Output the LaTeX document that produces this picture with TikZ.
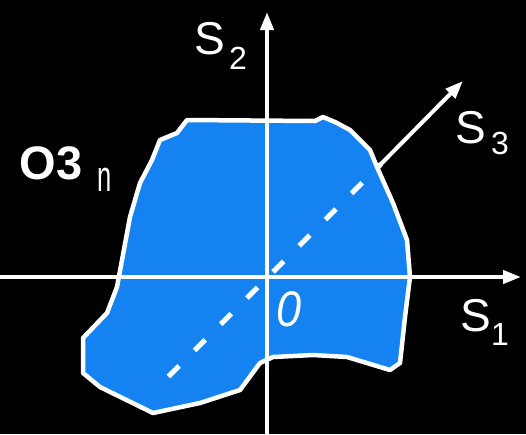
\documentclass[tikz,border=0pt]{standalone}
\usepackage{fontspec}
\setmainfont{Liberation Sans}
\usetikzlibrary{arrows.meta}
\definecolor{regionblue}{RGB}{20,130,240}
\begin{document}
\begin{tikzpicture}[x=1pt,y=-1pt,
  axis/.style={draw=white,line width=4pt,-{Triangle[length=18pt,width=13pt]}},
  lbl/.style={text=white,inner sep=0pt,font=\fontsize{46}{50}\selectfont},
  sublbl/.style={text=white,inner sep=0pt,font=\fontsize{32}{36}\selectfont}]
\fill[black] (0,0) rectangle (526,434);
\useasboundingbox (0,0) rectangle (526,434);
\filldraw[fill=regionblue,draw=white,line width=4.5pt,line join=round]
 (187,120) -- (315,121) -- (323,117) -- (335,122) -- (350,130) -- (370,150) -- (377,167)
 -- (393,203) -- (407,240) -- (410,277) -- (405,317) -- (400,363) -- (390,370)
 -- (347,357) -- (313,355) -- (273,357) -- (260,363) -- (240,390) -- (200,403)
 -- (153,413) -- (100,387) -- (83,373) -- (83,338) -- (107,313) -- (117,287)
 -- (130,217) -- (140,183) -- (152,160) -- (160,140) -- (177,133) -- cycle;
\coordinate (O) at (267,277);
\coordinate (xL) at (0,277);
\coordinate (xR) at (521,277);
\coordinate (yB) at (267,434);
\coordinate (yT) at (267,12);
\coordinate (dS) at (167,378);
\coordinate (dE) at (381,164);
\coordinate (s3end) at (463,81);
\draw[axis] (xL) -- (xR);
\draw[axis] (yB) -- (yT);
\draw[white,line width=5pt,dash pattern=on 15pt off 22pt,dash phase=-2pt] (dS) -- (dE);
\draw[axis] (dE) -- (s3end);
\node[lbl] (S2) at (210,39) {S};
\node[sublbl] (S2i) at (238,58) {2};
\node[lbl] (S3) at (471,128) {S};
\node[sublbl] (S3i) at (500,143) {3};
\node[lbl] (S1) at (476,316) {S};
\node[sublbl] (S1i) at (500,334) {1};
\node[text=white,inner sep=0pt,font=\fontsize{47}{50}\selectfont\bfseries] (O3) at (51,163) {O3};
\node[text=white,inner sep=0pt,font=\fontsize{30}{34}\selectfont,xscale=0.85,yscale=1.45] (n) at (104.5,180) {n};
\node[text=white,inner sep=0pt,font=\fontsize{50}{54}\selectfont\itshape,xscale=0.9] (zero) at (289,309) {0};
\end{tikzpicture}
\end{document}
